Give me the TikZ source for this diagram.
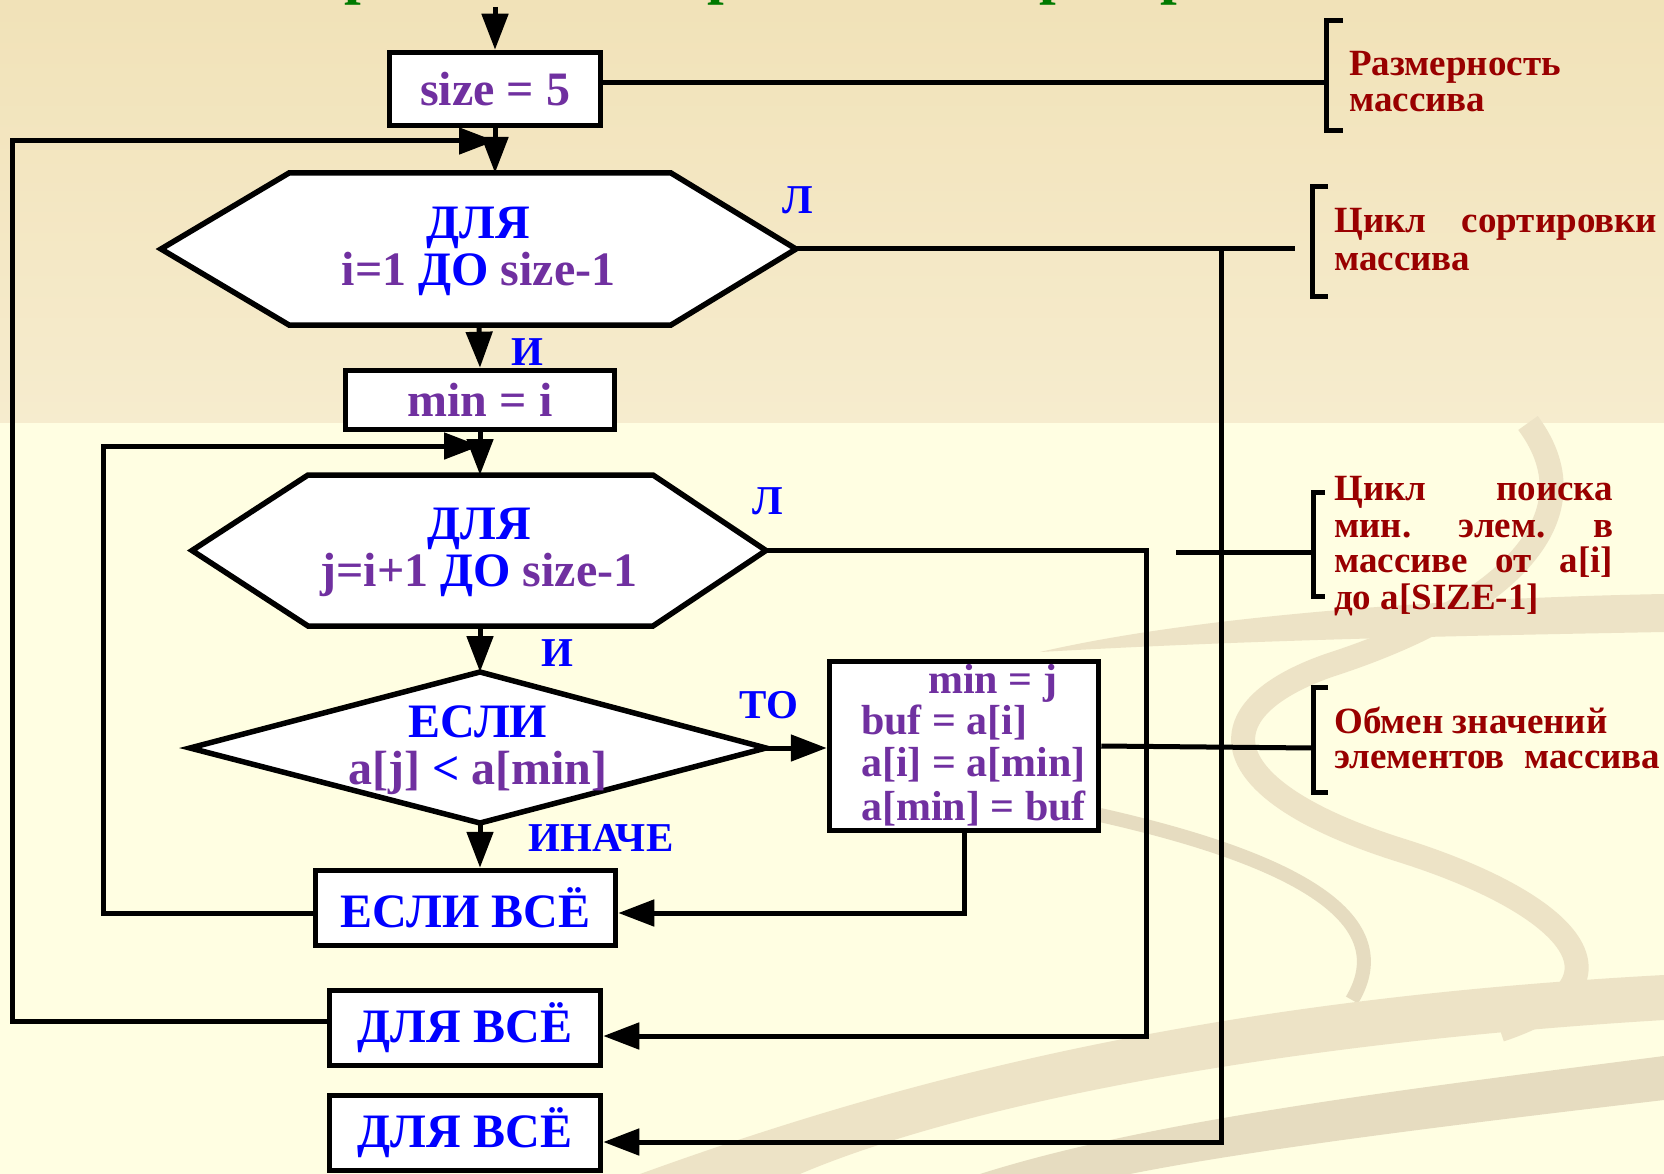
\documentclass[tikz,border=0pt]{standalone}
\usepackage{fontspec}
\setmainfont{Liberation Serif}
\usetikzlibrary{arrows.meta,calc}
\definecolor{purp}{HTML}{7030A0}
\definecolor{blueT}{HTML}{0000FF}
\definecolor{dred}{HTML}{990000}
\definecolor{titlegreen}{HTML}{007A00}
\definecolor{bgtop}{HTML}{F1E2B8}
\definecolor{bgmid}{HTML}{F6ECCE}
\definecolor{bglow}{HTML}{FFFEE2}
\definecolor{swA}{HTML}{EDE3C6}
\definecolor{swB}{HTML}{E6DCC0}
\tikzset{
  box/.style={draw, line width=5.5pt, fill=white, inner sep=0pt},
  hull/.style={draw, line width=5.5pt, fill=white, line join=miter},
  shapenode/.style={inner sep=0pt, align=center},
  ln/.style={line width=5pt},
  arr/.style={line width=5pt, -{Triangle[length=36pt,width=26pt]}},
  maintext/.style={font=\fontsize{48}{47}\selectfont\bfseries, text=purp},
  kwtext/.style={font=\fontsize{48}{47}\selectfont\bfseries, text=blueT},
  swaptext/.style={font=\fontsize{42}{42}\selectfont\bfseries, text=purp, anchor=base west, inner sep=0pt},
  lab/.style={font=\fontsize{41}{41}\selectfont\bfseries, text=blueT, inner sep=0pt},
  note/.style={font=\fontsize{37}{37}\selectfont\bfseries, text=dred, anchor=base west, inner sep=0pt},
  brk/.style={line width=5pt},
}
\begin{document}
\begin{tikzpicture}[x=1pt,y=-1pt]
\useasboundingbox (0,0) rectangle (1664,1174);
\begin{scope}
\clip (0,0) rectangle (1664,1174);
% background
\shade[top color=bgtop, bottom color=bgmid] (0,0) rectangle (1664,423);
\fill[bglow] (0,423) rectangle (1664,1174);
% swooshes
\fill[swA] (1040,652) .. controls (1200,615) and (1450,598) .. (1664,594) -- (1664,632) .. controls (1450,636) and (1250,640) .. (1040,652) -- cycle;
\draw[swA, line width=24pt] (1528,423) .. controls (1600,520) and (1500,610) .. (1330,665) .. controls (1200,710) and (1210,790) .. (1400,850) .. controls (1560,900) and (1650,980) .. (1500,1030);
\draw[swB, line width=14pt] (1100,815) .. controls (1300,860) and (1400,920) .. (1352,1000);
\fill[swA] (640,1174) .. controls (900,1080) and (1200,1000) .. (1664,975) -- (1664,1020) .. controls (1250,1045) and (950,1110) .. (800,1174) -- cycle;
\fill[swB] (980,1174) .. controls (1150,1120) and (1400,1090) .. (1664,1056) -- (1664,1100) .. controls (1450,1125) and (1250,1150) .. (1130,1174) -- cycle;
% title fragments (the title itself lies above the picture)
\foreach \tx/\nm in {361/ta,724/tb,1056/tc,1177/td}
  \node[font=\fontsize{60}{60}\selectfont\bfseries, text=titlegreen, anchor=base, inner sep=0pt] (\nm) at (\tx,-7) {р};
\end{scope}

% ---- shapes ----
\node[box, minimum width=211pt, minimum height=73pt, maintext] (size) at (495,89) {size = 5};

\path[hull] (161,249) -- (289,173) -- (671,173) -- (796,249) -- (671,325) -- (289,325) -- cycle;
\node[shapenode, minimum width=635pt, minimum height=152pt, maintext] (h1) at (478.5,251)
  {\textcolor{blueT}{ДЛЯ}\\i=1 \textcolor{blueT}{ДО} size-1};

\node[box, minimum width=269pt, minimum height=59pt, maintext] (min) at (480,400) {min = i};

\path[hull] (192,550.5) -- (308,475) -- (653,475) -- (766,550.5) -- (653,626) -- (308,626) -- cycle;
\node[shapenode, minimum width=574pt, minimum height=151pt, maintext] (h2) at (479,552.5)
  {\textcolor{blueT}{ДЛЯ}\\j=i+1 \textcolor{blueT}{ДО} size-1};

\path[hull] (480,672) -- (766,748) -- (480,823) -- (190,748) -- cycle;
\node[shapenode, minimum width=576pt, minimum height=151pt, maintext] (cond) at (478,750)
  {\textcolor{blueT}{ЕСЛИ}\\a[j] \textcolor{blueT}{<} a[min]};

\node[box, minimum width=269pt, minimum height=169pt] (swap) at (964,746) {};
\node[swaptext] (s1) at (928,693) {min = j};
\node[swaptext] (s2) at (861,734) {buf = a[i]};
\node[swaptext] (s3) at (861,776) {a[i] = a[min]};
\node[swaptext] (s4) at (861,820) {a[min] = buf};

\node[box, minimum width=300pt, minimum height=75pt, kwtext] (eif) at (465.5,908) {ЕСЛИ ВСЁ};
\node[box, minimum width=271pt, minimum height=75pt, kwtext] (dv1) at (465,1028) {ДЛЯ ВСЁ};
\node[box, minimum width=271pt, minimum height=75pt, kwtext] (dv2) at (465,1133) {ДЛЯ ВСЁ};

% ---- labels ----
\node[lab] (l1) at (798,200) {Л};
\node[lab] (i1) at (527,352) {И};
\node[lab] (l2) at (768,501) {Л};
\node[lab] (i2) at (557,653) {И};
\node[lab] (to) at (769,705) {ТО};
\node[lab] (else) at (601,838) {ИНАЧЕ};

% ---- connectors ----
\coordinate (top) at (495,7);
\draw[arr] (top) -- (size.north);
\coordinate (h1top) at (495,173);
\draw[arr] (size.south) -- (h1top);
\coordinate (L1) at (12,141);
\coordinate (J1) at (495,141);
\draw[arr] ([yshift=7pt]dv1.west) -| (L1) -- (J1);
\coordinate (h1bot) at (479,325);
\draw[arr] (h1bot) -- (min.north);
\coordinate (L2) at (103,446);
\coordinate (J2) at (480,446);
\draw[arr] ([yshift=-5pt]eif.west) -| (L2) -- (J2);
\coordinate (h2top) at (480,475);
\draw[arr] (min.south) -- (h2top);
\coordinate (h2bot) at (480,626);
\coordinate (ctop) at (480,672);
\draw[arr] (h2bot) -- (ctop);
\coordinate (cright) at (766,748);
\draw[arr] (cright) -- (cright -| swap.west);
\coordinate (cbot) at (480,823);
\draw[arr] (cbot) -- (cbot |- eif.north);
\draw[arr] (swap.south) |- ([yshift=-5pt]eif.east);
\coordinate (h2right) at (766,550.5);
\coordinate (C2) at (1146,800);
\draw[arr] (h2right) -| (C2) |- ([yshift=-8pt]dv1.east);
\coordinate (h1right) at (796,249);
\coordinate (E1) at (1295,249);
\draw[ln] (h1right) -- (E1);
\coordinate (T2) at (1221,249);
\draw[arr] (T2) |- ([yshift=-9pt]dv2.east);

% ---- annotation brackets ----
\coordinate (B1) at (1326,83);
\draw[ln] ([yshift=6pt]size.east) -- (B1);
\draw[brk] (1343,21) -- (1326,21) -- (1326,131) -- (1343,131);
\draw[brk] (1328,187) -- (1312,187) -- (1312,296) -- (1328,296);
\coordinate (B3a) at (1176,552);
\coordinate (B3b) at (1313,552);
\draw[ln] (B3a) -- (B3b);
\draw[brk] (1325,492) -- (1313,492) -- (1313,596) -- (1325,596);
\coordinate (B4) at (1313,748);
\draw[ln] (swap.east) -- (B4);
\draw[brk] (1328,687) -- (1313,687) -- (1313,792) -- (1328,792);

% ---- annotation texts ----
\node[note] (n1a) at (1349,76) {Размерность};
\node[note] (n1b) at (1349,112) {массива};
\node[note] (n2a) at (1334,233) {\hbox to 323pt{Цикл\hfill сортировки}};
\node[note] (n2b) at (1334,270) {массива};
\node[note] (n3a) at (1334,500) {\hbox to 279pt{Цикл\hfill поиска}};
\node[note] (n3b) at (1334,537) {\hbox to 279pt{мин.\hfill элем.\hfill в}};
\node[note] (n3c) at (1334,572) {\hbox to 279pt{массиве\hfill от\hfill а[i]}};
\node[note] (n3d) at (1334,609) {до а[SIZE-1]};
\node[note] (n4a) at (1334,733) {Обмен значений};
\node[note] (n4b) at (1334,768) {\hbox to 326pt{элементов\hfill массива}};
\end{tikzpicture}
\end{document}
